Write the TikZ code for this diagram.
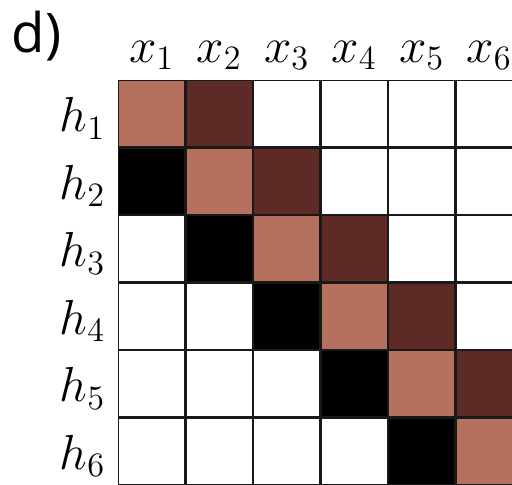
\documentclass[tikz,border=0pt]{standalone}
\usepackage{fontspec}
\newfontfamily\panelfont{Open Sans}
\usepackage{tikz}
\usetikzlibrary{positioning}
\definecolor{diagcolour}{RGB}{181,112,94}
\definecolor{uppercolour}{RGB}{94,42,38}

\begin{document}
\begin{tikzpicture}[
    cell/.style={draw=black!90, line width=0.65pt, rectangle, minimum size=0.985cm, inner sep=0pt, outer sep=0pt, fill=white},
    lab/.style={font=\fontsize{19.5}{23}\selectfont, inner sep=0pt}
]
\useasboundingbox (-1.748,1.185) rectangle (5.837,-6.0);

\node[anchor=base west, inner sep=0pt, font=\panelfont\fontsize{23}{27}\selectfont] (title) at (-1.58,0.40) {d)};

% weight matrix
\foreach \i in {1,...,6} {
  \foreach \j in {1,...,6} {
    \pgfmathtruncatemacro{\d}{\j-\i}
    \ifnum\d=0 \def\cellfill{diagcolour}\else
      \ifnum\d=1 \def\cellfill{uppercolour}\else
        \ifnum\d=-1 \def\cellfill{black}\else
          \def\cellfill{white}\fi\fi\fi
    \node[cell, fill=\cellfill] (c-\i-\j) at (\j-0.5,-\i+0.5) {};
  }
}

% labels
\foreach \j in {1,...,6}
  \node[lab, anchor=base] (x\j) at ([yshift=0.27cm]c-1-\j.north) {$x_{\j}$};
\foreach \i in {1,...,6}
  \node[lab, anchor=base east] (h\i) at ([xshift=-0.19cm, yshift=-0.27cm]c-\i-1.west) {$h_{\i}$};

\end{tikzpicture}
\end{document}
